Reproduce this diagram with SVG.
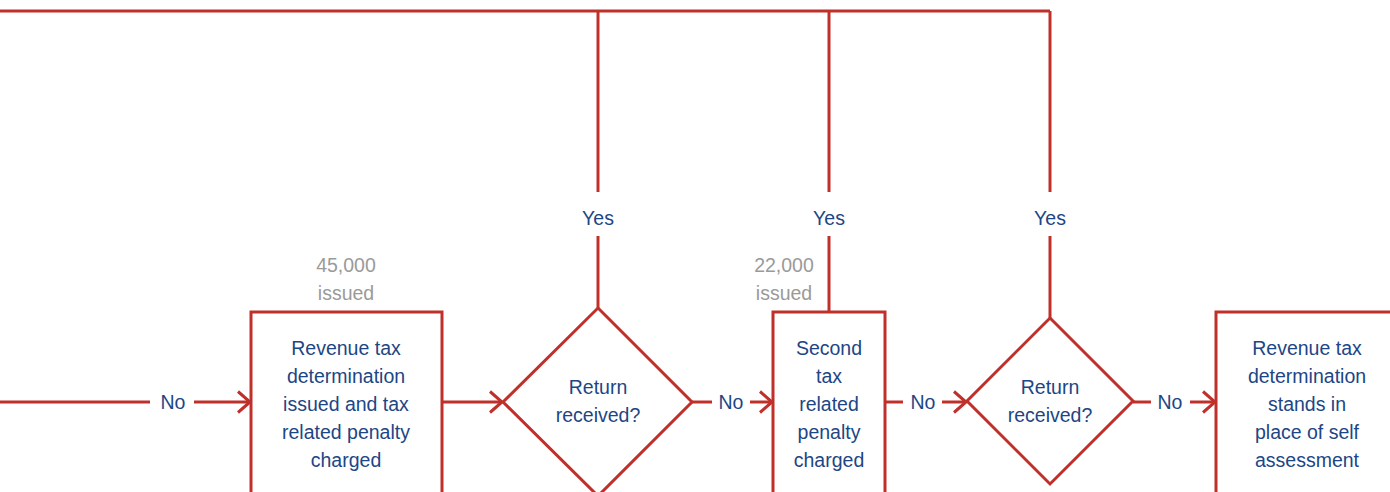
<svg xmlns="http://www.w3.org/2000/svg" width="1390" height="492" viewBox="0 0 1390 492">
  <style>
    .shape { fill: #ffffff; stroke: #c0302b; stroke-width: 3; }
    .wire { fill: none; stroke: #c0302b; stroke-width: 3; }
    .lbl { font-family: "Liberation Sans", Arial, sans-serif; font-size: 19.5px; fill: #1d4685; text-anchor: middle; }
    .count { font-family: "Liberation Sans", Arial, sans-serif; font-size: 19.5px; fill: #9a9a9a; text-anchor: middle; }
  </style>
  <defs>
    <marker id="chev" markerUnits="userSpaceOnUse" markerWidth="16" markerHeight="26" refX="13" refY="12" orient="auto" viewBox="0 0 16 26">
      <path d="M1,1.5 L13,12 L1,22.5" fill="none" stroke="#c0302b" stroke-width="3"/>
    </marker>
  </defs>
  <rect width="1390" height="492" fill="#ffffff"/>

  <!-- connectors -->
  <g id="connectors">
    <!-- return loop along the top -->
    <path class="wire" d="M0,11 H1050"/>
    <path class="wire" d="M598,11 V192"/>
    <path class="wire" d="M829,11 V192"/>
    <path class="wire" d="M1050,11 V192"/>
    <path class="wire" d="M598,236 V308"/>
    <path class="wire" d="M829,236 V312"/>
    <path class="wire" d="M1050,236 V318"/>
    <text class="lbl" x="598" y="225">Yes</text>
    <text class="lbl" x="829" y="225">Yes</text>
    <text class="lbl" x="1050" y="225">Yes</text>

    <!-- main row -->
    <path class="wire" d="M0,402 H150"/>
    <text class="lbl" x="173" y="409">No</text>
    <path class="wire" d="M194,402 H250" marker-end="url(#chev)"/>

    <path class="wire" d="M442,402 H502" marker-end="url(#chev)"/>

    <path class="wire" d="M692,402 H712"/>
    <text class="lbl" x="731" y="409">No</text>
    <path class="wire" d="M750,402 H772" marker-end="url(#chev)"/>

    <path class="wire" d="M885,402 H903"/>
    <text class="lbl" x="923" y="409">No</text>
    <path class="wire" d="M942,402 H966" marker-end="url(#chev)"/>

    <path class="wire" d="M1133,402 H1151"/>
    <text class="lbl" x="1170" y="409">No</text>
    <path class="wire" d="M1190,402 H1215" marker-end="url(#chev)"/>
  </g>

  <!-- determination issued -->
  <g id="node-determination">
    <text class="count" x="346" y="272">45,000</text>
    <text class="count" x="346" y="300">issued</text>
    <rect class="shape" x="251" y="312" width="191" height="190"/>
    <text class="lbl" x="346" y="355">Revenue tax</text>
    <text class="lbl" x="346" y="383">determination</text>
    <text class="lbl" x="346" y="411">issued and tax</text>
    <text class="lbl" x="346" y="439">related penalty</text>
    <text class="lbl" x="346" y="467">charged</text>
  </g>

  <!-- first decision -->
  <g id="node-return-1">
    <polygon class="shape" points="598,308 692,402 598,496 503,402"/>
    <text class="lbl" x="598" y="394">Return</text>
    <text class="lbl" x="598" y="422">received?</text>
  </g>

  <!-- second penalty -->
  <g id="node-second-penalty">
    <text class="count" x="784" y="272">22,000</text>
    <text class="count" x="784" y="300">issued</text>
    <rect class="shape" x="773" y="312" width="112" height="190"/>
    <text class="lbl" x="829" y="355">Second</text>
    <text class="lbl" x="829" y="383">tax</text>
    <text class="lbl" x="829" y="411">related</text>
    <text class="lbl" x="829" y="439">penalty</text>
    <text class="lbl" x="829" y="467">charged</text>
  </g>

  <!-- second decision -->
  <g id="node-return-2">
    <polygon class="shape" points="1050,318 1133,401 1050,484 967,401"/>
    <text class="lbl" x="1050" y="394">Return</text>
    <text class="lbl" x="1050" y="422">received?</text>
  </g>

  <!-- final outcome -->
  <g id="node-stands">
    <rect class="shape" x="1216" y="312" width="190" height="190"/>
    <text class="lbl" x="1307" y="355">Revenue tax</text>
    <text class="lbl" x="1307" y="383">determination</text>
    <text class="lbl" x="1307" y="411">stands in</text>
    <text class="lbl" x="1307" y="439">place of self</text>
    <text class="lbl" x="1307" y="467">assessment</text>
  </g>
</svg>
